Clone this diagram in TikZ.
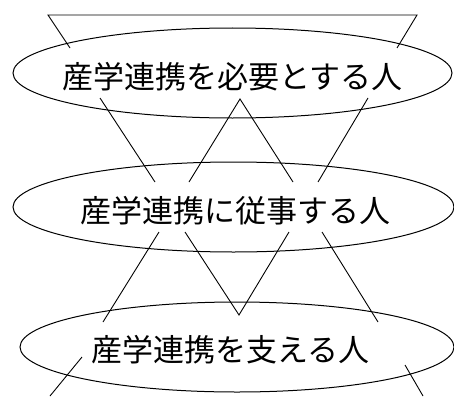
\documentclass[tikz,border=0pt]{standalone}
\usepackage{fontspec}
\usetikzlibrary{shapes.geometric}
\newfontfamily\jpfont{Noto Sans CJK JP}
\begin{document}
\begin{tikzpicture}[x=1pt,y=-1pt,
  oval/.style={draw,ellipse,line width=1pt,fill=white,inner sep=0pt},
  lbl/.style={font=\jpfont\fontsize{31}{36}\selectfont,inner sep=0pt},
  ln/.style={line width=0.9pt,line join=miter}]
\useasboundingbox (0,0) rectangle (454,396);
% ellipses
\node[oval,minimum width=439pt,minimum height=90pt] (e1) at (232.5,73) {};
\node[oval,minimum width=441pt,minimum height=90pt] (e2) at (233.5,207) {};
\node[oval,minimum width=434pt,minimum height=90pt] (e3) at (237,347) {};
% line end points
\coordinate (a1) at (70,48); \coordinate (a2) at (48,15);
\coordinate (a3) at (417,15); \coordinate (a4) at (397,48);
\coordinate (b1) at (100,98); \coordinate (b2) at (155,182);
\coordinate (b3) at (189,182); \coordinate (b4) at (240,99); \coordinate (b5) at (293,182);
\coordinate (b6) at (368,98); \coordinate (b7) at (318,182);
\coordinate (c1) at (159,232); \coordinate (c2) at (103,322);
\coordinate (c3) at (185,232); \coordinate (c4) at (239,315); \coordinate (c5) at (289,232);
\coordinate (c6) at (322,232); \coordinate (c7) at (378,322);
\coordinate (d1) at (82,357); \coordinate (d2) at (50,396);
\coordinate (d3) at (405,365); \coordinate (d4) at (423,396);
\draw[ln] (a1) -- (a2) -- (a3) -- (a4);
\draw[ln] (b1) -- (b2);
\draw[ln] (b3) -- (b4) -- (b5);
\draw[ln] (b6) -- (b7);
\draw[ln] (c1) -- (c2);
\draw[ln] (c3) -- (c4) -- (c5);
\draw[ln] (c6) -- (c7);
\draw[ln] (d1) -- (d2);
\draw[ln] (d3) -- (d4);
% texts
\node[lbl] (t1) at (232.5,77) {産学連携を必要とする人};
\node[lbl] (t2) at (235.5,211) {産学連携に従事する人};
\node[lbl] (t3) at (230.5,350) {産学連携を支える人};
\end{tikzpicture}
\end{document}
